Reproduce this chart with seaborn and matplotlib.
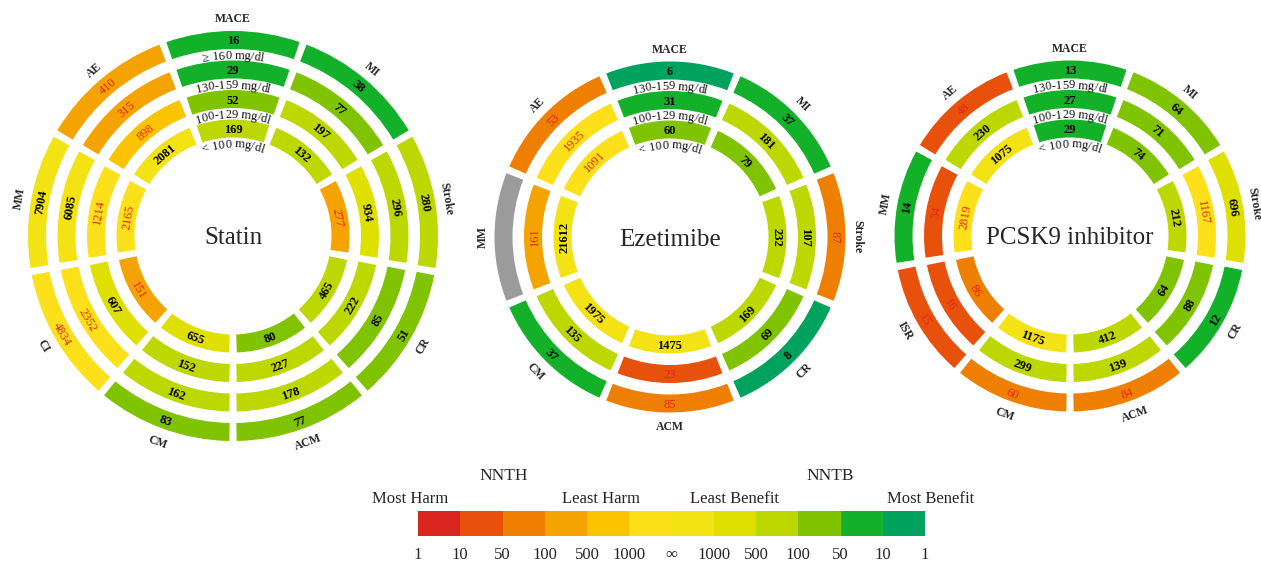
import numpy as np
import matplotlib
matplotlib.use("Agg")
import matplotlib.pyplot as plt
from matplotlib.colors import ListedColormap
from matplotlib.font_manager import FontProperties
import seaborn as sns

# ---------------------------------------------------------------
# Data: NNT per LDL ring (outer -> inner), in segment order.
# Positive = NNTB (benefit), negative = NNTH (harm), None = no data
# ---------------------------------------------------------------
statin_segments = ["MACE", "MI", "Stroke", "CR", "ACM", "CM", "CI", "MM", "AE"]
statin_rings = ["≥ 160 mg/dl", "130-159 mg/dl", "100-129 mg/dl", "< 100 mg/dl"]
statin_nnt = [
    [16, 38, 280, 51, 77, 83, -4834, 7904, -410],
    [29, 77, 296, 85, 178, 162, -2352, 6085, -315],
    [52, 197, 934, 222, 227, 152, 607, -1214, -898],
    [169, 132, -277, 465, 80, 655, -151, -2165, 2081],
]

ezetimibe_segments = ["MACE", "MI", "Stroke", "CR", "ACM", "CM", "MM", "AE"]
ezetimibe_rings = ["130-159 mg/dl", "100-129 mg/dl", "< 100 mg/dl"]
ezetimibe_nnt = [
    [6, 37, -87, 8, -85, 37, None, -53],
    [31, 181, 107, 69, -23, 135, -161, -1935],
    [60, 79, 232, 169, 1475, 1975, 21612, -1091],
]

pcsk9_segments = ["MACE", "MI", "Stroke", "CR", "ACM", "CM", "ISR", "MM", "AE"]
pcsk9_rings = ["130-159 mg/dl", "100-129 mg/dl", "< 100 mg/dl"]
pcsk9_nnt = [
    [13, 64, 696, 12, -84, -60, -15, 14, -48],
    [27, 71, -1167, 88, 139, 299, -16, -34, 230],
    [29, 74, 212, 64, 412, 1175, -86, -2819, 1075],
]

legend_ticks = ["1", "10", "50", "100", "500", "1000", "∞", "1000", "500", "100", "50", "10", "1"]

# colour bins: |NNT| <=10, <=50, <=100, <=500, <=1000, >1000
BIN_EDGES = [10, 50, 100, 500, 1000]
HARM_COLORS = ["#d8261e", "#e8510c", "#ef7f00", "#f5a300", "#fbc400", "#fce01a"]
BENEFIT_COLORS = ["#00a35e", "#13b02a", "#80c300", "#bdd700", "#dfe000", "#f3e214"]
GRAY = "#9b9b9b"
HARM_TEXT = "#e4261c"

SERIF = ["Liberation Serif", "DejaVu Serif"]

W, H = 1261, 567
RMAX = 240          # polar radius in pixels
RING_W = 18
RING_STEP = 29.5
RING_IN = 107.5
GAP = 7


def nnt_color(v):
    if v is None:
        return GRAY
    k = int(np.searchsorted(BIN_EDGES, abs(v), side="left"))
    return HARM_COLORS[k] if v < 0 else BENEFIT_COLORS[k]


def tangent_rot(deg):
    deg = deg % 360
    if deg > 180:
        deg -= 360
    return deg - 90 if 0 <= deg <= 180 else deg + 90


def arc_text(fig, ax, s, r, theta_deg, size):
    # lay characters along the arc (text above the baseline points outward)
    renderer = fig.canvas.get_renderer()
    fp = FontProperties(family=SERIF, size=size)

    def width(t):
        return renderer.get_text_width_height_descent(t, fp, ismath=False)[0]

    total = width(s)
    for i, ch in enumerate(s):
        if ch == " ":
            continue
        w_ch = width(ch)
        left = width(s[:i + 1]) - w_ch
        offset = left + w_ch / 2 - total / 2
        ang = theta_deg - np.degrees(offset / r)
        ax.text(np.radians(ang), r, ch, rotation=ang - 90, rotation_mode="anchor",
                ha="center", va="baseline", fontsize=size, family=SERIF, color="#111111")


def draw_chart(fig, cx, cy, title, segments, rings, nnt):
    ax = fig.add_axes([(cx - RMAX) / W, (H - cy - RMAX) / H, 2 * RMAX / W, 2 * RMAX / H],
                      projection="polar")
    ax.set_ylim(0, RMAX)
    ax.axis("off")
    ax.patch.set_alpha(0)

    n = len(segments)
    step = 360.0 / n
    angles = [90 - step * i for i in range(n)]
    n_rings = len(rings)
    radii = [RING_IN + RING_STEP * (n_rings - 1 - j) for j in range(n_rings)]

    for j, r in enumerate(radii):
        vals = nnt[j]
        width = np.radians(step) - GAP / r
        ax.bar(np.radians(angles), RING_W, width=width, bottom=r - RING_W / 2,
               color=[nnt_color(v) for v in vals], edgecolor="none", align="center")
        for ang, v in zip(angles, vals):
            if v is None:
                continue
            ax.text(np.radians(ang), r, str(abs(v)), rotation=tangent_rot(ang),
                    rotation_mode="anchor", ha="center", va="center_baseline",
                    fontsize=9, family=SERIF,
                    fontweight="normal" if v < 0 else "bold",
                    color=HARM_TEXT if v < 0 else "black")
        # LDL label just inside each ring, in the MACE sector
        arc_text(fig, ax, rings[j], r - 19, 90, 9)

    r_lab = radii[0] + 22
    for ang, name in zip(angles, segments):
        ax.text(np.radians(ang), r_lab, name, rotation=tangent_rot(ang),
                rotation_mode="anchor", ha="center", va="center_baseline",
                fontsize=8.5, fontweight="bold", family=SERIF)

    ax.text(0, 0, title, ha="center", va="center_baseline", fontsize=18, family=SERIF)


sns.set_style("white")
plt.rcParams["font.family"] = SERIF

fig = plt.figure(figsize=(W / 100, H / 100), dpi=100)

draw_chart(fig, 233, 236, "Statin", statin_segments, statin_rings, statin_nnt)
draw_chart(fig, 670, 237, "Ezetimibe", ezetimibe_segments, ezetimibe_rings, ezetimibe_nnt)
draw_chart(fig, 1070, 236, "PCSK9 inhibitor", pcsk9_segments, pcsk9_rings, pcsk9_nnt)

# colour key
legend_colors = HARM_COLORS + BENEFIT_COLORS[::-1]
lax = fig.add_axes([418 / W, (H - 536) / H, 507 / W, 25 / H])
sns.heatmap(np.arange(12).reshape(1, 12), cmap=ListedColormap(legend_colors),
            vmin=-0.5, vmax=11.5, cbar=False, ax=lax,
            xticklabels=False, yticklabels=False, linewidths=0)
lax.set_xticks(np.arange(13))
lax.set_xticklabels(legend_ticks, fontsize=12, family=SERIF)
lax.tick_params(axis="x", length=0, pad=8)
lax.set_yticks([])


def ftext(x, y, s, size=12):
    fig.text(x / W, 1 - y / H, s, ha="center", va="center_baseline", fontsize=size, family=SERIF)


ftext(504, 474, "NNTH", 12.5)
ftext(830, 474, "NNTB", 12.5)
ftext(410, 497, "Most Harm")
ftext(601, 497, "Least Harm")
ftext(734, 497, "Least Benefit")
ftext(931, 497, "Most Benefit")

fig.savefig("out.png", dpi=100)
